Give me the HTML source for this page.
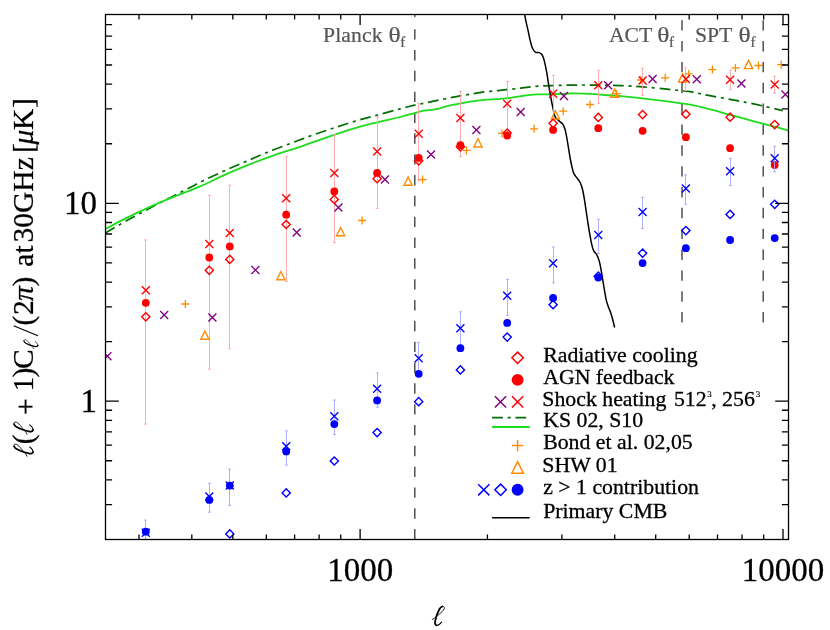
<!DOCTYPE html>
<html><head><meta charset="utf-8"><title>SZ power spectrum</title>
<style>html,body{margin:0;padding:0;background:#fff}svg{display:block;will-change:transform}text{font-family:"Liberation Serif",serif;fill:#000}.it{font-style:italic}</style></head><body>
<svg width="830" height="630" viewBox="0 0 830 630">
<rect width="830" height="630" fill="#fff"/>
<defs><clipPath id="pc"><rect x="105.5" y="14.5" width="683.0" height="525.0"/></clipPath></defs>
<g stroke="#444" stroke-width="1.4" fill="none">
<path d="M414.8 29.20V39.60M414.8 50.03V60.43M414.8 70.86V81.26M414.8 91.69V102.09M414.8 112.52V122.92M414.8 133.35V143.75M414.8 154.18V164.58M414.8 175.01V185.41M414.8 195.84V206.24M414.8 216.67V227.07M414.8 237.50V247.90M414.8 258.33V268.73M414.8 279.16V289.56M414.8 299.99V310.39M414.8 320.82V331.22M414.8 341.65V352.05M414.8 362.48V372.88M414.8 383.31V393.71M414.8 404.14V414.54M414.8 424.97V435.37M414.8 445.80V456.20M414.8 466.63V477.03M414.8 487.46V497.86M414.8 508.29V518.69M414.8 529.12V539.50"/>
<path d="M414.8 14.5V16.9"/>
<path d="M682.0 20.20V30.60M682.0 41.05V51.45M682.0 61.90V72.30M682.0 82.75V93.15M682.0 103.60V114.00M682.0 124.45V134.85M682.0 145.30V155.70M682.0 166.15V176.55M682.0 187.00V197.40M682.0 207.85V218.25M682.0 228.70V239.10M682.0 249.55V259.95M682.0 270.40V280.80M682.0 291.25V301.65M682.0 312.10V322.50"/>
<path d="M763.2 20.20V30.60M763.2 41.05V51.45M763.2 61.90V72.30M763.2 82.75V93.15M763.2 103.60V114.00M763.2 124.45V134.85M763.2 145.30V155.70M763.2 166.15V176.55M763.2 187.00V197.40M763.2 207.85V218.25M763.2 228.70V239.10M763.2 249.55V259.95M763.2 270.40V280.80M763.2 291.25V301.65M763.2 312.10V322.50"/>
</g>
<g font-size="21.7" style="fill:#555" stroke="#555" stroke-width="0.2">
<text x="323.0" y="42.4" style="fill:#555" letter-spacing="0.12">Planck</text>
<text transform="translate(388.4 42.4) scale(1.17 1)" style="fill:#555">θ</text>
<text x="400.2" y="47.4" font-size="15" style="fill:#555">f</text>
<text x="608.9" y="42.4" style="fill:#555">ACT</text>
<text transform="translate(657.2 42.4) scale(1.17 1)" style="fill:#555">θ</text>
<text x="669.0" y="47.4" font-size="15" style="fill:#555">f</text>
<text x="695.0" y="42.4" style="fill:#555">SPT</text>
<text transform="translate(738.6 42.4) scale(1.17 1)" style="fill:#555">θ</text>
<text x="750.4" y="47.4" font-size="15" style="fill:#555">f</text>
</g>
<g clip-path="url(#pc)">
<path d="M105.40 233.00C109.58 230.58 121.20 223.63 130.50 218.50C139.80 213.37 154.37 205.77 161.20 202.20C168.03 198.63 168.03 198.87 171.50 197.10C174.97 195.33 178.48 193.42 182.00 191.60C185.52 189.78 189.15 187.98 192.60 186.20C196.05 184.42 197.45 183.45 202.70 180.90C207.95 178.35 216.95 174.12 224.10 170.90C231.25 167.68 238.47 164.67 245.60 161.60C252.73 158.53 259.67 155.43 266.90 152.50C274.13 149.57 283.48 146.12 289.00 144.00C294.52 141.88 296.35 141.18 300.00 139.80C303.65 138.42 305.42 137.62 310.90 135.70C316.38 133.78 325.47 130.75 332.90 128.30C340.33 125.85 348.02 123.22 355.50 121.00C362.98 118.78 370.38 117.02 377.80 115.00C385.22 112.98 393.85 110.53 400.00 108.90C406.15 107.27 408.87 106.53 414.70 105.20C420.53 103.87 429.72 102.00 435.00 100.90C440.28 99.80 442.58 99.37 446.40 98.60C450.22 97.83 454.07 97.00 457.90 96.30C461.73 95.60 465.55 95.07 469.40 94.40C473.25 93.73 477.08 92.85 481.00 92.30C484.92 91.75 489.73 91.42 492.90 91.10C496.07 90.78 497.32 90.72 500.00 90.40C502.68 90.08 506.48 89.47 509.00 89.20C511.52 88.93 512.13 89.10 515.10 88.80C518.07 88.50 522.88 87.83 526.80 87.40C530.72 86.97 534.68 86.48 538.60 86.20C542.52 85.92 546.38 85.85 550.30 85.70C554.22 85.55 558.12 85.40 562.10 85.30C566.08 85.20 570.18 85.15 574.20 85.10C578.22 85.05 581.90 84.98 586.20 85.00C590.50 85.02 594.27 85.10 600.00 85.20C605.73 85.30 613.47 85.32 620.60 85.60C627.73 85.88 634.75 86.27 642.80 86.90C650.85 87.53 661.03 88.60 668.90 89.40C676.77 90.20 683.40 90.70 690.00 91.70C696.60 92.70 701.62 94.08 708.50 95.40C715.38 96.72 723.57 98.13 731.30 99.60C739.03 101.07 746.33 102.37 754.90 104.20C763.47 106.03 778.07 109.53 782.70 110.60" stroke="#006e00" stroke-width="1.7" fill="none" stroke-dasharray="10.8 4.7 3.1 4.7"/>
<path d="M105.40 229.00C108.52 227.35 116.95 222.67 124.10 219.10C131.25 215.53 140.25 211.22 148.30 207.60C156.35 203.98 163.78 200.93 172.40 197.40C181.02 193.87 191.38 190.12 200.00 186.40C208.62 182.68 216.05 178.68 224.10 175.10C232.15 171.52 240.25 168.12 248.30 164.90C256.35 161.68 263.78 158.80 272.40 155.80C281.02 152.80 291.38 149.82 300.00 146.90C308.62 143.98 318.37 140.30 324.10 138.30C329.83 136.30 330.37 136.27 334.40 134.90C338.43 133.53 341.97 132.02 348.30 130.10C354.63 128.18 363.78 125.58 372.40 123.40C381.02 121.22 392.95 118.72 400.00 117.00C407.05 115.28 410.68 114.15 414.70 113.10C418.72 112.05 420.52 111.35 424.10 110.70C427.68 110.05 432.17 110.02 436.20 109.20C440.23 108.38 444.28 106.77 448.30 105.80C452.32 104.83 456.28 104.15 460.30 103.40C464.32 102.65 468.38 101.90 472.40 101.30C476.42 100.70 479.80 100.20 484.40 99.80C489.00 99.40 495.38 99.27 500.00 98.90C504.62 98.53 508.08 98.15 512.10 97.60C516.12 97.05 520.08 96.13 524.10 95.60C528.12 95.07 532.17 94.60 536.20 94.40C540.23 94.20 544.28 94.47 548.30 94.40C552.32 94.33 556.28 94.17 560.30 94.00C564.32 93.83 568.38 93.45 572.40 93.40C576.42 93.35 579.80 93.50 584.40 93.70C589.00 93.90 593.97 94.20 600.00 94.60C606.03 95.00 613.47 95.47 620.60 96.10C627.73 96.73 634.75 97.47 642.80 98.40C650.85 99.33 661.03 100.65 668.90 101.70C676.77 102.75 683.40 103.50 690.00 104.70C696.60 105.90 701.82 107.22 708.50 108.90C715.18 110.58 722.37 112.68 730.10 114.80C737.83 116.92 747.53 119.63 754.90 121.60C762.27 123.57 768.68 125.12 774.30 126.60C779.92 128.08 786.22 129.85 788.60 130.50" stroke="#1edc1e" stroke-width="1.8" fill="none"/>
<path d="M524.60 14.60C524.90 16.05 525.78 20.45 526.40 23.30C527.02 26.15 527.68 28.88 528.30 31.70C528.92 34.52 529.50 37.68 530.10 40.20C530.70 42.72 531.30 45.10 531.90 46.80C532.50 48.50 533.00 49.45 533.70 50.40C534.40 51.35 535.20 52.13 536.10 52.50C537.00 52.87 538.20 52.35 539.10 52.60C540.00 52.85 540.80 53.17 541.50 54.00C542.20 54.83 542.70 55.88 543.30 57.60C543.90 59.32 544.48 61.58 545.10 64.30C545.72 67.02 546.47 70.85 547.00 73.90C547.53 76.95 547.78 79.35 548.30 82.60C548.82 85.85 549.50 89.98 550.10 93.40C550.70 96.82 551.30 100.08 551.90 103.10C552.50 106.12 553.13 109.15 553.70 111.50C554.27 113.85 554.42 115.63 555.30 117.20C556.18 118.77 557.78 119.78 559.00 120.90C560.22 122.02 561.60 122.50 562.60 123.90C563.60 125.30 564.30 127.00 565.00 129.30C565.70 131.60 566.20 134.48 566.80 137.70C567.40 140.92 568.00 144.97 568.60 148.60C569.20 152.23 569.80 156.28 570.40 159.50C571.00 162.72 571.60 165.50 572.20 167.90C572.80 170.30 573.10 172.08 574.00 173.90C574.90 175.72 576.53 177.28 577.60 178.80C578.67 180.32 579.57 181.18 580.40 183.00C581.23 184.82 581.93 186.98 582.60 189.70C583.27 192.42 583.80 195.68 584.40 199.30C585.00 202.92 585.60 207.38 586.20 211.40C586.80 215.42 587.40 219.58 588.00 223.40C588.60 227.22 589.20 230.88 589.80 234.30C590.40 237.72 590.97 241.18 591.60 243.90C592.23 246.62 592.73 248.78 593.60 250.60C594.47 252.42 595.87 253.08 596.80 254.80C597.73 256.52 598.50 258.48 599.20 260.90C599.90 263.32 600.40 266.08 601.00 269.30C601.60 272.52 602.20 276.58 602.80 280.20C603.40 283.82 604.00 287.58 604.60 291.00C605.20 294.42 605.78 298.08 606.40 300.70C607.02 303.32 607.58 304.70 608.30 306.70C609.02 308.70 610.00 310.68 610.70 312.70C611.40 314.72 611.85 316.33 612.50 318.80C613.15 321.27 614.25 326.05 614.60 327.50" stroke="#000" stroke-width="1.5" fill="none"/>
<path d="M145.5 239.90V424.10M144.00 239.90H147.00M144.00 424.10H147.00" stroke="#ffa6a6" stroke-width="0.9" fill="none"/>
<path d="M209.5 195.30V369.20M208.00 195.30H211.00M208.00 369.20H211.00" stroke="#ffa6a6" stroke-width="0.9" fill="none"/>
<path d="M229.5 185.30V348.90M228.00 185.30H231.00M228.00 348.90H231.00" stroke="#ffa6a6" stroke-width="0.9" fill="none"/>
<path d="M286.5 156.30V281.40M285.00 156.30H288.00M285.00 281.40H288.00" stroke="#ffa6a6" stroke-width="0.9" fill="none"/>
<path d="M334.5 134.70V242.60M333.00 134.70H336.00M333.00 242.60H336.00" stroke="#ffa6a6" stroke-width="0.9" fill="none"/>
<path d="M377.5 117.10V208.40M376.00 117.10H379.00M376.00 208.40H379.00" stroke="#ffa6a6" stroke-width="0.9" fill="none"/>
<path d="M418.5 103.20V180.80M417.00 103.20H420.00M417.00 180.80H420.00" stroke="#ffa6a6" stroke-width="0.9" fill="none"/>
<path d="M460.5 91.30V156.70M459.00 91.30H462.00M459.00 156.70H462.00" stroke="#ffa6a6" stroke-width="0.9" fill="none"/>
<path d="M507.5 81.40V134.60M506.00 81.40H509.00M506.00 134.60H509.00" stroke="#ffa6a6" stroke-width="0.9" fill="none"/>
<path d="M553.5 75.30V118.00M552.00 75.30H555.00M552.00 118.00H555.00" stroke="#ffa6a6" stroke-width="0.9" fill="none"/>
<path d="M598.5 70.40V103.50M597.00 70.40H600.00M597.00 103.50H600.00" stroke="#ffa6a6" stroke-width="0.9" fill="none"/>
<path d="M642.5 68.30V95.40M641.00 68.30H644.00M641.00 95.40H644.00" stroke="#ffa6a6" stroke-width="0.9" fill="none"/>
<path d="M685.5 67.90V90.40M684.00 67.90H687.00M684.00 90.40H687.00" stroke="#ffa6a6" stroke-width="0.9" fill="none"/>
<path d="M730.5 70.00V89.70M729.00 70.00H732.00M729.00 89.70H732.00" stroke="#ffa6a6" stroke-width="0.9" fill="none"/>
<path d="M774.5 76.20V93.20M773.00 76.20H776.00M773.00 93.20H776.00" stroke="#ffa6a6" stroke-width="0.9" fill="none"/>
<path d="M181.40 304.00H189.40M185.40 300.00V308.00" stroke="#ff8c00" stroke-width="1.3" fill="none"/>
<path d="M358.10 220.50H366.10M362.10 216.50V224.50" stroke="#ff8c00" stroke-width="1.3" fill="none"/>
<path d="M418.60 179.60H426.60M422.60 175.60V183.60" stroke="#ff8c00" stroke-width="1.3" fill="none"/>
<path d="M462.50 150.40H470.50M466.50 146.40V154.40" stroke="#ff8c00" stroke-width="1.3" fill="none"/>
<path d="M498.00 133.40H506.00M502.00 129.40V137.40" stroke="#ff8c00" stroke-width="1.3" fill="none"/>
<path d="M530.10 128.80H538.10M534.10 124.80V132.80" stroke="#ff8c00" stroke-width="1.3" fill="none"/>
<path d="M559.20 111.20H567.20M563.20 107.20V115.20" stroke="#ff8c00" stroke-width="1.3" fill="none"/>
<path d="M586.00 104.50H594.00M590.00 100.50V108.50" stroke="#ff8c00" stroke-width="1.3" fill="none"/>
<path d="M612.50 93.70H620.50M616.50 89.70V97.70" stroke="#ff8c00" stroke-width="1.3" fill="none"/>
<path d="M636.90 80.00H644.90M640.90 76.00V84.00" stroke="#ff8c00" stroke-width="1.3" fill="none"/>
<path d="M661.20 77.80H669.20M665.20 73.80V81.80" stroke="#ff8c00" stroke-width="1.3" fill="none"/>
<path d="M684.80 73.90H692.80M688.80 69.90V77.90" stroke="#ff8c00" stroke-width="1.3" fill="none"/>
<path d="M708.40 69.60H716.40M712.40 65.60V73.60" stroke="#ff8c00" stroke-width="1.3" fill="none"/>
<path d="M731.40 67.90H739.40M735.40 63.90V71.90" stroke="#ff8c00" stroke-width="1.3" fill="none"/>
<path d="M754.50 65.50H762.50M758.50 61.50V69.50" stroke="#ff8c00" stroke-width="1.3" fill="none"/>
<path d="M777.20 64.70H785.20M781.20 60.70V68.70" stroke="#ff8c00" stroke-width="1.3" fill="none"/>
<path d="M204.90 331.10L209.00 339.30L200.80 339.30Z" stroke="#ff8c00" stroke-width="1.4" fill="none" stroke-linejoin="miter"/>
<path d="M280.90 271.50L285.00 279.70L276.80 279.70Z" stroke="#ff8c00" stroke-width="1.4" fill="none" stroke-linejoin="miter"/>
<path d="M340.60 227.60L344.70 235.80L336.50 235.80Z" stroke="#ff8c00" stroke-width="1.4" fill="none" stroke-linejoin="miter"/>
<path d="M408.10 177.00L412.20 185.20L404.00 185.20Z" stroke="#ff8c00" stroke-width="1.4" fill="none" stroke-linejoin="miter"/>
<path d="M478.00 138.80L482.10 147.00L473.90 147.00Z" stroke="#ff8c00" stroke-width="1.4" fill="none" stroke-linejoin="miter"/>
<path d="M555.40 110.80L559.50 119.00L551.30 119.00Z" stroke="#ff8c00" stroke-width="1.4" fill="none" stroke-linejoin="miter"/>
<path d="M614.60 89.10L618.70 97.30L610.50 97.30Z" stroke="#ff8c00" stroke-width="1.4" fill="none" stroke-linejoin="miter"/>
<path d="M682.60 73.90L686.70 82.10L678.50 82.10Z" stroke="#ff8c00" stroke-width="1.4" fill="none" stroke-linejoin="miter"/>
<path d="M748.50 60.40L752.60 68.60L744.40 68.60Z" stroke="#ff8c00" stroke-width="1.4" fill="none" stroke-linejoin="miter"/>
<path d="M103.40 352.20L111.40 360.20M103.40 360.20L111.40 352.20" stroke="#800080" stroke-width="1.35" fill="none"/>
<path d="M160.20 311.10L168.20 319.10M160.20 319.10L168.20 311.10" stroke="#800080" stroke-width="1.35" fill="none"/>
<path d="M208.40 313.60L216.40 321.60M208.40 321.60L216.40 313.60" stroke="#800080" stroke-width="1.35" fill="none"/>
<path d="M251.40 266.00L259.40 274.00M251.40 274.00L259.40 266.00" stroke="#800080" stroke-width="1.35" fill="none"/>
<path d="M292.70 228.40L300.70 236.40M292.70 236.40L300.70 228.40" stroke="#800080" stroke-width="1.35" fill="none"/>
<path d="M334.40 203.50L342.40 211.50M334.40 211.50L342.40 203.50" stroke="#800080" stroke-width="1.35" fill="none"/>
<path d="M380.90 175.60L388.90 183.60M380.90 183.60L388.90 175.60" stroke="#800080" stroke-width="1.35" fill="none"/>
<path d="M427.00 150.50L435.00 158.50M427.00 158.50L435.00 150.50" stroke="#800080" stroke-width="1.35" fill="none"/>
<path d="M472.40 125.90L480.40 133.90M472.40 133.90L480.40 125.90" stroke="#800080" stroke-width="1.35" fill="none"/>
<path d="M516.70 108.00L524.70 116.00M516.70 116.00L524.70 108.00" stroke="#800080" stroke-width="1.35" fill="none"/>
<path d="M559.90 92.10L567.90 100.10M559.90 100.10L567.90 92.10" stroke="#800080" stroke-width="1.35" fill="none"/>
<path d="M604.10 81.30L612.10 89.30M604.10 89.30L612.10 81.30" stroke="#800080" stroke-width="1.35" fill="none"/>
<path d="M648.60 75.00L656.60 83.00M648.60 83.00L656.60 75.00" stroke="#800080" stroke-width="1.35" fill="none"/>
<path d="M692.80 75.30L700.80 83.30M692.80 83.30L700.80 75.30" stroke="#800080" stroke-width="1.35" fill="none"/>
<path d="M737.40 79.60L745.40 87.60M737.40 87.60L745.40 79.60" stroke="#800080" stroke-width="1.35" fill="none"/>
<path d="M781.40 90.50L789.40 98.50M781.40 98.50L789.40 90.50" stroke="#800080" stroke-width="1.35" fill="none"/>
<path d="M145.80 312.70L149.90 316.80L145.80 320.90L141.70 316.80Z" stroke="#ff0000" stroke-width="1.4" fill="none"/>
<path d="M209.30 266.20L213.40 270.30L209.30 274.40L205.20 270.30Z" stroke="#ff0000" stroke-width="1.4" fill="none"/>
<path d="M229.80 255.30L233.90 259.40L229.80 263.50L225.70 259.40Z" stroke="#ff0000" stroke-width="1.4" fill="none"/>
<path d="M286.20 220.40L290.30 224.50L286.20 228.60L282.10 224.50Z" stroke="#ff0000" stroke-width="1.4" fill="none"/>
<path d="M334.30 195.30L338.40 199.40L334.30 203.50L330.20 199.40Z" stroke="#ff0000" stroke-width="1.4" fill="none"/>
<path d="M377.10 174.60L381.20 178.70L377.10 182.80L373.00 178.70Z" stroke="#ff0000" stroke-width="1.4" fill="none"/>
<path d="M418.70 156.70L422.80 160.80L418.70 164.90L414.60 160.80Z" stroke="#ff0000" stroke-width="1.4" fill="none"/>
<path d="M460.40 142.70L464.50 146.80L460.40 150.90L456.30 146.80Z" stroke="#ff0000" stroke-width="1.4" fill="none"/>
<path d="M507.20 128.90L511.30 133.00L507.20 137.10L503.10 133.00Z" stroke="#ff0000" stroke-width="1.4" fill="none"/>
<path d="M553.10 119.20L557.20 123.30L553.10 127.40L549.00 123.30Z" stroke="#ff0000" stroke-width="1.4" fill="none"/>
<path d="M598.30 113.30L602.40 117.40L598.30 121.50L594.20 117.40Z" stroke="#ff0000" stroke-width="1.4" fill="none"/>
<path d="M642.60 110.50L646.70 114.60L642.60 118.70L638.50 114.60Z" stroke="#ff0000" stroke-width="1.4" fill="none"/>
<path d="M685.90 110.10L690.00 114.20L685.90 118.30L681.80 114.20Z" stroke="#ff0000" stroke-width="1.4" fill="none"/>
<path d="M730.10 113.10L734.20 117.20L730.10 121.30L726.00 117.20Z" stroke="#ff0000" stroke-width="1.4" fill="none"/>
<path d="M774.70 120.50L778.80 124.60L774.70 128.70L770.60 124.60Z" stroke="#ff0000" stroke-width="1.4" fill="none"/>
<circle cx="145.80" cy="302.80" r="3.9" fill="#ff0000"/>
<circle cx="209.30" cy="257.50" r="3.9" fill="#ff0000"/>
<circle cx="229.80" cy="246.40" r="3.9" fill="#ff0000"/>
<circle cx="286.20" cy="214.70" r="3.9" fill="#ff0000"/>
<circle cx="334.30" cy="191.50" r="3.9" fill="#ff0000"/>
<circle cx="377.10" cy="172.90" r="3.9" fill="#ff0000"/>
<circle cx="418.70" cy="157.90" r="3.9" fill="#ff0000"/>
<circle cx="460.40" cy="145.20" r="3.9" fill="#ff0000"/>
<circle cx="507.20" cy="135.50" r="3.9" fill="#ff0000"/>
<circle cx="553.10" cy="129.90" r="3.9" fill="#ff0000"/>
<circle cx="598.30" cy="128.20" r="3.9" fill="#ff0000"/>
<circle cx="642.60" cy="130.80" r="3.9" fill="#ff0000"/>
<circle cx="685.90" cy="137.20" r="3.9" fill="#ff0000"/>
<circle cx="730.10" cy="148.20" r="3.9" fill="#ff0000"/>
<circle cx="774.70" cy="165.00" r="3.9" fill="#ff0000"/>
<path d="M141.80 286.30L149.80 294.30M141.80 294.30L149.80 286.30" stroke="#ff0000" stroke-width="1.35" fill="none"/>
<path d="M205.30 240.00L213.30 248.00M205.30 248.00L213.30 240.00" stroke="#ff0000" stroke-width="1.35" fill="none"/>
<path d="M225.80 228.90L233.80 236.90M225.80 236.90L233.80 228.90" stroke="#ff0000" stroke-width="1.35" fill="none"/>
<path d="M282.20 194.30L290.20 202.30M282.20 202.30L290.20 194.30" stroke="#ff0000" stroke-width="1.35" fill="none"/>
<path d="M330.30 169.00L338.30 177.00M330.30 177.00L338.30 169.00" stroke="#ff0000" stroke-width="1.35" fill="none"/>
<path d="M373.10 147.40L381.10 155.40M373.10 155.40L381.10 147.40" stroke="#ff0000" stroke-width="1.35" fill="none"/>
<path d="M414.70 129.80L422.70 137.80M414.70 137.80L422.70 129.80" stroke="#ff0000" stroke-width="1.35" fill="none"/>
<path d="M456.40 114.10L464.40 122.10M456.40 122.10L464.40 114.10" stroke="#ff0000" stroke-width="1.35" fill="none"/>
<path d="M503.20 99.80L511.20 107.80M503.20 107.80L511.20 99.80" stroke="#ff0000" stroke-width="1.35" fill="none"/>
<path d="M549.10 89.70L557.10 97.70M549.10 97.70L557.10 89.70" stroke="#ff0000" stroke-width="1.35" fill="none"/>
<path d="M594.30 81.30L602.30 89.30M594.30 89.30L602.30 81.30" stroke="#ff0000" stroke-width="1.35" fill="none"/>
<path d="M638.60 76.60L646.60 84.60M638.60 84.60L646.60 76.60" stroke="#ff0000" stroke-width="1.35" fill="none"/>
<path d="M681.90 74.90L689.90 82.90M681.90 82.90L689.90 74.90" stroke="#ff0000" stroke-width="1.35" fill="none"/>
<path d="M726.10 75.80L734.10 83.80M726.10 83.80L734.10 75.80" stroke="#ff0000" stroke-width="1.35" fill="none"/>
<path d="M770.70 80.60L778.70 88.60M770.70 88.60L778.70 80.60" stroke="#ff0000" stroke-width="1.35" fill="none"/>
<path d="M145.5 520.10V545.00M144.00 520.10H147.00M144.00 545.00H147.00" stroke="#a6a6ff" stroke-width="0.9" fill="none"/>
<path d="M209.5 483.20V512.20M208.00 483.20H211.00M208.00 512.20H211.00" stroke="#a6a6ff" stroke-width="0.9" fill="none"/>
<path d="M229.5 469.20V505.40M228.00 469.20H231.00M228.00 505.40H231.00" stroke="#a6a6ff" stroke-width="0.9" fill="none"/>
<path d="M286.5 430.90V465.10M285.00 430.90H288.00M285.00 465.10H288.00" stroke="#a6a6ff" stroke-width="0.9" fill="none"/>
<path d="M334.5 400.00V434.50M333.00 400.00H336.00M333.00 434.50H336.00" stroke="#a6a6ff" stroke-width="0.9" fill="none"/>
<path d="M377.5 373.00V407.20M376.00 373.00H379.00M376.00 407.20H379.00" stroke="#a6a6ff" stroke-width="0.9" fill="none"/>
<path d="M418.5 342.40V377.00M417.00 342.40H420.00M417.00 377.00H420.00" stroke="#a6a6ff" stroke-width="0.9" fill="none"/>
<path d="M460.5 311.80V345.00M459.00 311.80H462.00M459.00 345.00H462.00" stroke="#a6a6ff" stroke-width="0.9" fill="none"/>
<path d="M507.5 279.30V315.30M506.00 279.30H509.00M506.00 315.30H509.00" stroke="#a6a6ff" stroke-width="0.9" fill="none"/>
<path d="M553.5 247.00V282.80M552.00 247.00H555.00M552.00 282.80H555.00" stroke="#a6a6ff" stroke-width="0.9" fill="none"/>
<path d="M598.5 219.30V253.60M597.00 219.30H600.00M597.00 253.60H600.00" stroke="#a6a6ff" stroke-width="0.9" fill="none"/>
<path d="M642.5 197.30V228.50M641.00 197.30H644.00M641.00 228.50H644.00" stroke="#a6a6ff" stroke-width="0.9" fill="none"/>
<path d="M685.5 174.80V204.30M684.00 174.80H687.00M684.00 204.30H687.00" stroke="#a6a6ff" stroke-width="0.9" fill="none"/>
<path d="M730.5 158.40V185.50M729.00 158.40H732.00M729.00 185.50H732.00" stroke="#a6a6ff" stroke-width="0.9" fill="none"/>
<path d="M774.5 146.30V171.70M773.00 146.30H776.00M773.00 171.70H776.00" stroke="#a6a6ff" stroke-width="0.9" fill="none"/>
<path d="M229.80 529.80L233.90 533.90L229.80 538.00L225.70 533.90Z" stroke="#0000ff" stroke-width="1.4" fill="none"/>
<path d="M286.20 488.80L290.30 492.90L286.20 497.00L282.10 492.90Z" stroke="#0000ff" stroke-width="1.4" fill="none"/>
<path d="M334.30 456.90L338.40 461.00L334.30 465.10L330.20 461.00Z" stroke="#0000ff" stroke-width="1.4" fill="none"/>
<path d="M377.10 428.50L381.20 432.60L377.10 436.70L373.00 432.60Z" stroke="#0000ff" stroke-width="1.4" fill="none"/>
<path d="M418.70 397.60L422.80 401.70L418.70 405.80L414.60 401.70Z" stroke="#0000ff" stroke-width="1.4" fill="none"/>
<path d="M460.40 365.80L464.50 369.90L460.40 374.00L456.30 369.90Z" stroke="#0000ff" stroke-width="1.4" fill="none"/>
<path d="M507.20 333.00L511.30 337.10L507.20 341.20L503.10 337.10Z" stroke="#0000ff" stroke-width="1.4" fill="none"/>
<path d="M553.10 300.60L557.20 304.70L553.10 308.80L549.00 304.70Z" stroke="#0000ff" stroke-width="1.4" fill="none"/>
<path d="M598.30 272.10L602.40 276.20L598.30 280.30L594.20 276.20Z" stroke="#0000ff" stroke-width="1.4" fill="none"/>
<path d="M642.60 249.10L646.70 253.20L642.60 257.30L638.50 253.20Z" stroke="#0000ff" stroke-width="1.4" fill="none"/>
<path d="M685.90 226.50L690.00 230.60L685.90 234.70L681.80 230.60Z" stroke="#0000ff" stroke-width="1.4" fill="none"/>
<path d="M730.10 210.30L734.20 214.40L730.10 218.50L726.00 214.40Z" stroke="#0000ff" stroke-width="1.4" fill="none"/>
<path d="M774.70 200.20L778.80 204.30L774.70 208.40L770.60 204.30Z" stroke="#0000ff" stroke-width="1.4" fill="none"/>
<circle cx="145.80" cy="531.70" r="3.9" fill="#0000ff"/>
<circle cx="209.30" cy="499.90" r="3.9" fill="#0000ff"/>
<circle cx="229.80" cy="485.60" r="3.9" fill="#0000ff"/>
<circle cx="286.20" cy="451.40" r="3.9" fill="#0000ff"/>
<circle cx="334.30" cy="424.10" r="3.9" fill="#0000ff"/>
<circle cx="377.10" cy="400.40" r="3.9" fill="#0000ff"/>
<circle cx="418.70" cy="373.80" r="3.9" fill="#0000ff"/>
<circle cx="460.40" cy="348.20" r="3.9" fill="#0000ff"/>
<circle cx="507.20" cy="322.90" r="3.9" fill="#0000ff"/>
<circle cx="553.10" cy="298.00" r="3.9" fill="#0000ff"/>
<circle cx="598.30" cy="277.60" r="3.9" fill="#0000ff"/>
<circle cx="642.60" cy="263.10" r="3.9" fill="#0000ff"/>
<circle cx="685.90" cy="248.20" r="3.9" fill="#0000ff"/>
<circle cx="730.10" cy="240.00" r="3.9" fill="#0000ff"/>
<circle cx="774.70" cy="238.10" r="3.9" fill="#0000ff"/>
<path d="M141.80 528.70L149.80 536.70M141.80 536.70L149.80 528.70" stroke="#0000ff" stroke-width="1.35" fill="none"/>
<path d="M205.30 492.50L213.30 500.50M205.30 500.50L213.30 492.50" stroke="#0000ff" stroke-width="1.35" fill="none"/>
<path d="M225.80 481.60L233.80 489.60M225.80 489.60L233.80 481.60" stroke="#0000ff" stroke-width="1.35" fill="none"/>
<path d="M282.20 442.30L290.20 450.30M282.20 450.30L290.20 442.30" stroke="#0000ff" stroke-width="1.35" fill="none"/>
<path d="M330.30 412.20L338.30 420.20M330.30 420.20L338.30 412.20" stroke="#0000ff" stroke-width="1.35" fill="none"/>
<path d="M373.10 384.70L381.10 392.70M373.10 392.70L381.10 384.70" stroke="#0000ff" stroke-width="1.35" fill="none"/>
<path d="M414.70 354.30L422.70 362.30M414.70 362.30L422.70 354.30" stroke="#0000ff" stroke-width="1.35" fill="none"/>
<path d="M456.40 324.20L464.40 332.20M456.40 332.20L464.40 324.20" stroke="#0000ff" stroke-width="1.35" fill="none"/>
<path d="M503.20 291.70L511.20 299.70M503.20 299.70L511.20 291.70" stroke="#0000ff" stroke-width="1.35" fill="none"/>
<path d="M549.10 259.20L557.10 267.20M549.10 267.20L557.10 259.20" stroke="#0000ff" stroke-width="1.35" fill="none"/>
<path d="M594.30 231.00L602.30 239.00M594.30 239.00L602.30 231.00" stroke="#0000ff" stroke-width="1.35" fill="none"/>
<path d="M638.60 208.00L646.60 216.00M638.60 216.00L646.60 208.00" stroke="#0000ff" stroke-width="1.35" fill="none"/>
<path d="M681.90 184.60L689.90 192.60M681.90 192.60L689.90 184.60" stroke="#0000ff" stroke-width="1.35" fill="none"/>
<path d="M726.10 167.20L734.10 175.20M726.10 175.20L734.10 167.20" stroke="#0000ff" stroke-width="1.35" fill="none"/>
<path d="M770.70 154.30L778.70 162.30M770.70 162.30L778.70 154.30" stroke="#0000ff" stroke-width="1.35" fill="none"/>
</g>
<g stroke="#000" stroke-width="1.3" fill="none" stroke-linecap="butt">
<rect x="105.5" y="14.5" width="683.0" height="525.0"/>
<path d="M138.99 539.5v-5.0M138.99 14.5v5.0M191.82 539.5v-5.0M191.82 14.5v5.0M232.81 539.5v-5.0M232.81 14.5v5.0M266.29 539.5v-5.0M266.29 14.5v5.0M294.60 539.5v-5.0M294.60 14.5v5.0M319.13 539.5v-5.0M319.13 14.5v5.0M340.76 539.5v-5.0M340.76 14.5v5.0M360.11 539.5v-10.5M360.11 14.5v10.5M487.42 539.5v-5.0M487.42 14.5v5.0M561.89 539.5v-5.0M561.89 14.5v5.0M614.72 539.5v-5.0M614.72 14.5v5.0M655.71 539.5v-5.0M655.71 14.5v5.0M689.19 539.5v-5.0M689.19 14.5v5.0M717.50 539.5v-5.0M717.50 14.5v5.0M742.03 539.5v-5.0M742.03 14.5v5.0M763.66 539.5v-5.0M763.66 14.5v5.0M783.01 539.5v-10.5M783.01 14.5v10.5M105.5 504.66h6.6M788.5 504.66h-6.6M105.5 479.94h6.6M788.5 479.94h-6.6M105.5 460.76h6.6M788.5 460.76h-6.6M105.5 445.09h6.6M788.5 445.09h-6.6M105.5 431.85h6.6M788.5 431.85h-6.6M105.5 420.37h6.6M788.5 420.37h-6.6M105.5 410.25h6.6M788.5 410.25h-6.6M105.5 401.19h13.3M788.5 401.19h-13.3M105.5 341.63h6.6M788.5 341.63h-6.6M105.5 306.79h6.6M788.5 306.79h-6.6M105.5 282.07h6.6M788.5 282.07h-6.6M105.5 262.89h6.6M788.5 262.89h-6.6M105.5 247.22h6.6M788.5 247.22h-6.6M105.5 233.98h6.6M788.5 233.98h-6.6M105.5 222.50h6.6M788.5 222.50h-6.6M105.5 212.38h6.6M788.5 212.38h-6.6M105.5 203.32h13.3M788.5 203.32h-13.3M105.5 143.76h6.6M788.5 143.76h-6.6M105.5 108.92h6.6M788.5 108.92h-6.6M105.5 84.20h6.6M788.5 84.20h-6.6M105.5 65.02h6.6M788.5 65.02h-6.6M105.5 49.35h6.6M788.5 49.35h-6.6M105.5 36.11h6.6M788.5 36.11h-6.6M105.5 24.63h6.6M788.5 24.63h-6.6"/>
</g>
<g font-size="33" stroke="#000" stroke-width="0.3">
<text x="327.2" y="581.3">1000</text>
<text x="741.8" y="581.3">10000</text>
<text x="96.9" y="214.4" text-anchor="end">10</text>
<text x="96.9" y="412.0" text-anchor="end">1</text>
</g>
<g transform="translate(432.2 626)" fill="none" stroke="#000" stroke-linecap="round" stroke-linejoin="round"><path stroke-width="0.9" d="M0.1 -6.5C2.5 -7.6 6 -11 8.9 -13.4C10.5 -14.8 12.5 -16.8 12.2 -18.3C12 -19.5 11 -19.9 10.1 -19.6"/><path stroke-width="1.75" d="M10.1 -19.5C9 -19.2 8 -18.2 7.3 -17C5.5 -14 3.7 -8.5 3 -5C2.5 -2.4 2.9 -0.8 4.4 -0.6"/><path stroke-width="1.05" d="M4.2 -0.55C6 -0.3 8 -2.2 9.4 -3.9"/></g>
<g transform="translate(32.7 460.0) rotate(-90) scale(1 0.975)" font-size="29.5" stroke="#000" stroke-width="0.25">
<text x="15.80" y="0.0">(</text>
<text x="44.93" y="2.0">+</text>
<text x="68.51" y="0.0">1</text>
<text x="82.45" y="0.0">)</text>
<text x="90.89" y="0.0">C</text>
<text x="134.40" y="0.0">(</text>
<text x="145.10" y="0.0">2</text>
<text x="158.94" y="0.0" class="it">π</text>
<text x="173.45" y="0.0">)</text>
<text x="193.36" y="0.0">at</text>
<text x="217.59" y="0.0">30GHz</text>
<text x="307.01" y="0.0">[</text>
<text x="315.43" y="0.0" class="it">μ</text>
<text x="329.95" y="0.0">K</text>
<text x="352.03" y="0.0">]</text>
</g>
<g transform="translate(33.6 456.4) rotate(-90)" fill="none" stroke="#000" stroke-linecap="round" stroke-linejoin="round"><path stroke-width="0.9" d="M0.1 -6.5C2.5 -7.6 6 -11 8.9 -13.4C10.5 -14.8 12.5 -16.8 12.2 -18.3C12 -19.5 11 -19.9 10.1 -19.6"/><path stroke-width="1.75" d="M10.1 -19.5C9 -19.2 8 -18.2 7.3 -17C5.5 -14 3.7 -8.5 3 -5C2.5 -2.4 2.9 -0.8 4.4 -0.6"/><path stroke-width="1.05" d="M4.2 -0.55C6 -0.3 8 -2.2 9.4 -3.9"/></g>
<g transform="translate(33.6 434.3) rotate(-90)" fill="none" stroke="#000" stroke-linecap="round" stroke-linejoin="round"><path stroke-width="0.9" d="M0.1 -6.5C2.5 -7.6 6 -11 8.9 -13.4C10.5 -14.8 12.5 -16.8 12.2 -18.3C12 -19.5 11 -19.9 10.1 -19.6"/><path stroke-width="1.75" d="M10.1 -19.5C9 -19.2 8 -18.2 7.3 -17C5.5 -14 3.7 -8.5 3 -5C2.5 -2.4 2.9 -0.8 4.4 -0.6"/><path stroke-width="1.05" d="M4.2 -0.55C6 -0.3 8 -2.2 9.4 -3.9"/></g>
<g transform="translate(38.3 348.6) rotate(-90) scale(0.735)" fill="none" stroke="#000" stroke-linecap="round" stroke-linejoin="round"><path stroke-width="0.9" d="M0.1 -6.5C2.5 -7.6 6 -11 8.9 -13.4C10.5 -14.8 12.5 -16.8 12.2 -18.3C12 -19.5 11 -19.9 10.1 -19.6"/><path stroke-width="1.75" d="M10.1 -19.5C9 -19.2 8 -18.2 7.3 -17C5.5 -14 3.7 -8.5 3 -5C2.5 -2.4 2.9 -0.8 4.4 -0.6"/><path stroke-width="1.05" d="M4.2 -0.55C6 -0.3 8 -2.2 9.4 -3.9"/></g>
<path d="M37.9 335.7L13.6 325.7" stroke="#000" stroke-width="1.1" fill="none"/>
<g font-size="21.8" stroke="#000" stroke-width="0.3">
<text x="543.2" y="362.3">Radiative cooling</text>
<text x="543.2" y="383.9">AGN feedback</text>
<text x="542.3" y="405.6">Shock heating</text>
<text x="673.9" y="405.6">512<tspan dy="-8.6" dx="0.6" font-size="9" stroke-width="0.15">3</tspan><tspan dy="8.6" dx="-0.5">, 256</tspan><tspan dy="-8.6" dx="1.0" font-size="9" stroke-width="0.15">3</tspan></text>
<text x="543.2" y="427.0">KS 02, S10</text>
<text x="543.2" y="449.2">Bond et al. 02,05</text>
<text x="542.3" y="471.5">SHW 01</text>
<text x="543.2" y="494.1">z &gt; 1 contribution</text>
<text x="543.2" y="517.7">Primary CMB</text>
</g>
<path d="M517.60 352.10L523.30 357.80L517.60 363.50L511.90 357.80Z" stroke="#ff0000" stroke-width="1.5" fill="none"/>
<circle cx="517.60" cy="379.90" r="5.95" fill="#ff0000"/>
<path d="M494.90 396.30L506.10 407.50M494.90 407.50L506.10 396.30" stroke="#800080" stroke-width="1.5" fill="none"/>
<path d="M512.00 396.30L523.20 407.50M512.00 407.50L523.20 396.30" stroke="#ff0000" stroke-width="1.5" fill="none"/>
<path d="M492.1 417.6H526.2" stroke="#006e00" stroke-width="1.7" stroke-dasharray="10.8 4.7 3.1 4.7" fill="none"/>
<path d="M492.1 427H529.7" stroke="#1edc1e" stroke-width="1.9" fill="none"/>
<path d="M511.90 445.60H523.30M517.60 439.90V451.30" stroke="#ff8c00" stroke-width="1.5" fill="none"/>
<path d="M517.60 461.60L523.40 473.20L511.80 473.20Z" stroke="#ff8c00" stroke-width="1.5" fill="none" stroke-linejoin="miter"/>
<path d="M478.20 484.20L489.40 495.40M478.20 495.40L489.40 484.20" stroke="#0000ff" stroke-width="1.5" fill="none"/>
<path d="M500.60 484.10L506.30 489.80L500.60 495.50L494.90 489.80Z" stroke="#0000ff" stroke-width="1.5" fill="none"/>
<circle cx="517.60" cy="489.80" r="5.95" fill="#0000ff"/>
<path d="M492.1 517.7H529.7" stroke="#000" stroke-width="1.5" fill="none"/>
</svg></body></html>
